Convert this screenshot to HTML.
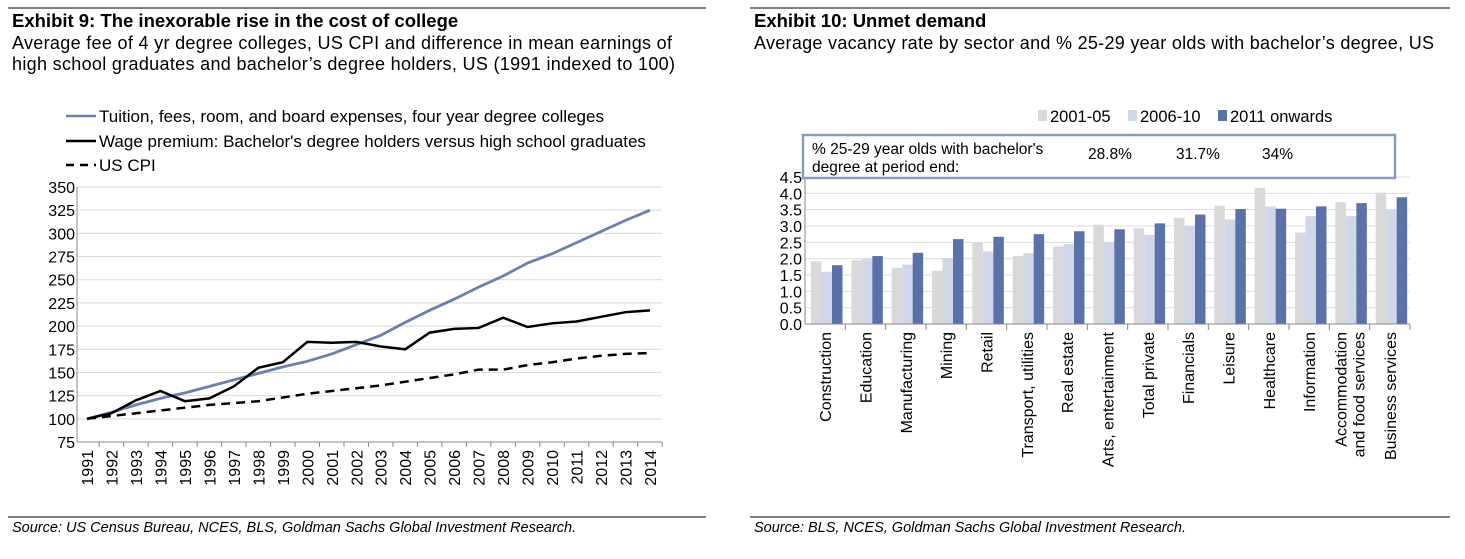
<!DOCTYPE html>
<html><head><meta charset="utf-8"><style>
body{margin:0;background:#fff;font-family:"Liberation Sans",Arial,sans-serif;}
svg text{font-family:"Liberation Sans",Arial,sans-serif;}
</style></head><body>
<svg width="1465" height="554" xmlns="http://www.w3.org/2000/svg" id="root">
<line x1="8" y1="8" x2="706" y2="8" stroke="#000"/>
<line x1="750" y1="8" x2="1450" y2="8" stroke="#000"/>
<text x="12" y="27" font-size="18.5" font-weight="bold">Exhibit 9: The inexorable rise in the cost of college</text>
<text x="12" y="49" font-size="18" textLength="660">Average fee of 4 yr degree colleges, US CPI and difference in mean earnings of</text>
<text x="12" y="70" font-size="18" textLength="663">high school graduates and bachelor’s degree holders, US (1991 indexed to 100)</text>
<text x="754" y="27" font-size="18.5" font-weight="bold">Exhibit 10: Unmet demand</text>
<text x="754" y="49" font-size="18" textLength="680">Average vacancy rate by sector and % 25-29 year olds with bachelor’s degree, US</text>
<line x1="8" y1="517" x2="706" y2="517" stroke="#000"/>
<line x1="750" y1="517" x2="1450" y2="517" stroke="#000"/>
<text x="12" y="532" font-size="14.5" font-style="italic">Source: US Census Bureau, NCES, BLS, Goldman Sachs Global Investment Research.</text>
<text x="754" y="532" font-size="14.5" font-style="italic">Source: BLS, NCES, Goldman Sachs Global Investment Research.</text>
<g id="left"></g>
<g id="right"></g>
</svg>
<script>
const years=["1991","1992","1993","1994","1995","1996","1997","1998","1999","2000","2001","2002","2003","2004","2005","2006","2007","2008","2009","2010","2011","2012","2013","2014"];
const tuition=[100,107,115,122,128,135,142,149,156,162,170,180,190,204,217,229,242,254,268,278,290,302,314,325];
const wage=[100,106,120,130,119,122,135,155,161,183,182,183,178,175,193,197,198,209,199,203,205,210,215,217];
const cpi=[100,103,106,109,112,115,117,119,123,127,130,133,136,140,144,148,153,153,158,161,165,168,170,171];
const yTicks=[75,100,125,150,175,200,225,250,275,300,325,350];

const sectors=["Construction","Education","Manufacturing","Mining","Retail","Transport, utilities","Real estate","Arts, entertainment","Total private","Financials","Leisure","Healthcare","Information","Accommodation|and food services","Business services"];
const s0105=[1.92,1.95,1.72,1.63,2.5,2.08,2.37,3.04,2.93,3.25,3.62,4.17,2.8,3.73,4.02];
const s0610=[1.6,2.0,1.82,2.02,2.22,2.17,2.45,2.5,2.73,3.0,3.2,3.6,3.3,3.3,3.5];
const s11=[1.8,2.08,2.18,2.6,2.67,2.75,2.84,2.9,3.08,3.35,3.52,3.53,3.6,3.7,3.88];
const rTicks=[0,0.5,1,1.5,2,2.5,3,3.5,4,4.5];
const seriesNames=["2001-05","2006-10","2011 onwards"];
const pctLabels=["28.8%","31.7%","34%"];

const NS="http://www.w3.org/2000/svg";
function mk(p,t,a,txt){const e=document.createElementNS(NS,t);for(const k in a)e.setAttribute(k,a[k]);if(txt!==undefined)e.textContent=txt;p.appendChild(e);return e;}

// Left chart
const L=document.getElementById('left');
const lx0=77,lx1=662,ly=v=>442-(v-75)*(255/275);
const lx=i=>87+i*(563/23);
yTicks.forEach(t=>{
  const g=mk(L,'line',{x1:lx0,x2:lx1,y1:ly(t),y2:ly(t),stroke:'#d9d9d9'});
  
  
  const tx=mk(L,'text',{x:lx0-2,y:ly(t)+6,'font-size':16,'text-anchor':'end'},t);
  
  
});
let ax=mk(L,'line',{x1:lx0,x2:lx0,y1:ly(350),y2:442,stroke:'#888'});


ax=mk(L,'line',{x1:lx0,x2:lx1,y1:442,y2:442,stroke:'#888'});


years.forEach((y,i)=>{
  const tk=mk(L,'line',{x1:lx(i)+12.2,x2:lx(i)+12.2,y1:442,y2:447,stroke:'#888'});
  
  
  const t=mk(L,'text',{x:0,y:0,'font-size':16,'text-anchor':'end',transform:`translate(${lx(i)+6},450) rotate(-90)`},y);
  
  
});
function line(arr,stroke,w,dash,name){
  const p=mk(L,'polyline',{points:arr.map((v,i)=>lx(i)+','+ly(v)).join(' '),fill:'none',stroke:stroke,'stroke-width':w});
  if(dash)p.setAttribute('stroke-dasharray',dash);
  
  
}
line(cpi,'#000',2.5,'9,6','cpi-line');
line(tuition,'#6a80ad',2.8,null,'tuition-line');
line(wage,'#000',2.5,null,'wage-line');
const legL=[["Tuition, fees, room, and board expenses, four year degree colleges",'#6a80ad',null,116],["Wage premium: Bachelor's degree holders versus high school graduates",'#000',null,141],["US CPI",'#000','8,6',165]];
legL.forEach((d,i)=>{
  const l=mk(L,'line',{x1:66,x2:96,y1:d[3],y2:d[3],stroke:d[1],'stroke-width':2.5});
  if(d[2])l.setAttribute('stroke-dasharray',d[2]);
  
  
  const t=mk(L,'text',{x:99,y:d[3]+6,'font-size':17},d[0]);
  
  
});

// Right chart
const R=document.getElementById('right');
const rx0=805,rx1=1410,ry=v=>324-v*(147/4.5);
const gw=(rx1-rx0)/sectors.length;
const cols=['#d9d9d9','#cfd7e8','#5b72a8'];
rTicks.forEach(t=>{
  const g=mk(R,'line',{x1:rx0,x2:rx1,y1:ry(t),y2:ry(t),stroke:'#dcdcdc'});
  
  
  const tx=mk(R,'text',{x:rx0-3,y:ry(t)+6,'font-size':16,'text-anchor':'end'},t.toFixed(1));
  
  
});
[s0105,s0610,s11].forEach((arr,si)=>{
  arr.forEach((v,i)=>{
    const b=mk(R,'rect',{x:rx0+i*gw+6+si*10.5,y:ry(v),width:10.5,height:ry(0)-ry(v),fill:cols[si]});
    
    
  });
});
ax=mk(R,'line',{x1:rx0,x2:rx0,y1:ry(4.5),y2:ry(0),stroke:'#888'});


ax=mk(R,'line',{x1:rx0,x2:rx1,y1:ry(0),y2:ry(0),stroke:'#888'});


sectors.forEach((s,i)=>{
  const tk=mk(R,'line',{x1:rx0+(i+1)*gw,x2:rx0+(i+1)*gw,y1:ry(0),y2:ry(0)+6,stroke:'#888'});
  
  
  const parts=s.split('|');
  parts.forEach((p,j)=>{
    const cx=rx0+i*gw+gw/2+6-(parts.length-1)*9+j*18;
    const t=mk(R,'text',{x:0,y:0,'font-size':16,'text-anchor':'end',transform:`translate(${cx},332) rotate(-90)`},p);
    
    
  });
});
const box=mk(R,'rect',{x:803,y:135,width:592,height:43,fill:'#fff',stroke:'#8a9bbd','stroke-width':2.5});


let bt=mk(R,'text',{x:812,y:154,'font-size':15.5},"% 25-29 year olds with bachelor's");


bt=mk(R,'text',{x:812,y:172,'font-size':15.5},"degree at period end:");


[1088,1176,1262].forEach((x,i)=>{
  const t=mk(R,'text',{x:x,y:159,'font-size':15.5},pctLabels[i]);
  
  
});
[1038,1128,1218].forEach((x,i)=>{
  const r=mk(R,'rect',{x:x,y:110,width:9,height:11,fill:cols[i]});
  
  
  const t=mk(R,'text',{x:x+12,y:122,'font-size':16.5},seriesNames[i]);
  
  
});
</script>
</body></html>
